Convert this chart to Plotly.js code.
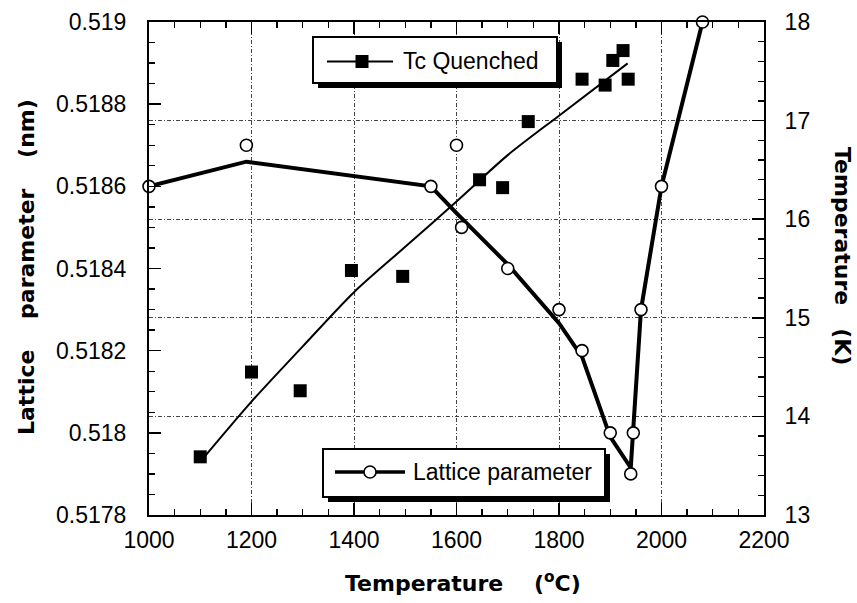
<!DOCTYPE html>
<html>
<head>
<meta charset="utf-8">
<script src="https://cdn.plot.ly/plotly-3.0.1.min.js"></script>
<style>html,body{margin:0;padding:0;background:#fff;}#chart{width:857px;height:603px;}</style>
</head>
<body>
<div id="chart"></div>
<script>
// ---- data ----
// Lattice parameter (nm), left axis
var latX = [1000, 1190, 1550, 1600, 1610, 1700, 1800, 1845, 1900, 1940, 1945, 1960, 2000, 2080];
var latY = [0.5186, 0.5187, 0.5186, 0.5187, 0.5185, 0.5184, 0.5183, 0.5182, 0.5180, 0.5179, 0.5180, 0.5183, 0.5186, 0.5190];
// drawn guide line through the lattice data
var latFitX = [1000, 1190, 1550, 1600, 1700, 1800, 1845, 1900, 1940, 1944, 1960, 2000, 2080];
var latFitY = [0.51860, 0.51866, 0.51860, 0.518535, 0.51841, 0.518267, 0.518185, 0.51799, 0.517915, 0.51800, 0.51830, 0.51860, 0.51900];
// Tc quenched (K), right axis
var tcX = [1100, 1200, 1295, 1395, 1495, 1645, 1690, 1740, 1845, 1890, 1905, 1925, 1935];
var tcY = [13.59, 14.45, 14.26, 15.48, 15.42, 16.40, 16.32, 16.99, 17.42, 17.36, 17.61, 17.71, 17.42];
// fitted Tc trend line
var tcFitX = [1100, 1200, 1300, 1400, 1500, 1600, 1700, 1800, 1934];
var tcFitY = [13.54, 14.15, 14.71, 15.26, 15.72, 16.18, 16.65, 17.05, 17.58];
// tick labels
var xTicks = [1000, 1200, 1400, 1600, 1800, 2000, 2200];
var xTickText = ['1000', '1200', '1400', '1600', '1800', '2000', '2200'];
var yTicks = [0.5178, 0.518, 0.5182, 0.5184, 0.5186, 0.5188, 0.519];
var yTickText = ['0.5178', '0.518', '0.5182', '0.5184', '0.5186', '0.5188', '0.519'];
var y2Ticks = [13, 14, 15, 16, 17, 18];
var y2TickText = ['13', '14', '15', '16', '17', '18'];
var legendNames = ['Tc Quenched', 'Lattice parameter'];

// ---- geometry helpers (pixel -> paper) ----
var L = 149, R = 764, T = 22, B = 515;
function px(x) { return (x - L) / (R - L); }
function py(y) { return (B - y) / (B - T); }

var tickFont = {family: 'Liberation Sans, Arial, sans-serif', size: 23, color: '#000'};
var titleFont = {family: 'DejaVu Sans, sans-serif', size: 22, color: '#000', weight: 'bold'};
var gridDash = '4px,2px,1px,2px';

var traces = [
  {x: latFitX, y: latFitY, mode: 'lines', line: {color: '#000', width: 4}, cliponaxis: false, hoverinfo: 'skip', showlegend: false},
  {x: latX, y: latY, mode: 'markers', name: legendNames[1], cliponaxis: false,
   marker: {symbol: 'circle', size: 12, color: '#fff', line: {color: '#000', width: 1.6}}, showlegend: false},
  {x: tcFitX, y: tcFitY, yaxis: 'y2', mode: 'lines', line: {color: '#000', width: 2, shape: 'spline', smoothing: 0.8}, cliponaxis: false, hoverinfo: 'skip', showlegend: false},
  {x: tcX, y: tcY, yaxis: 'y2', mode: 'markers', name: legendNames[0], cliponaxis: false,
   marker: {symbol: 'square', size: 13, color: '#000'}, showlegend: false}
];

var nb = '\u00a0';
var shapes = [];
var annotations = [];
function box(x0, y0, x1, y1, off) {
  shapes.push({type: 'rect', xref: 'paper', yref: 'paper', x0: px(x0 + off), x1: px(x1 + off), y0: py(y1 + off), y1: py(y0 + off),
               fillcolor: '#000', line: {width: 0}, layer: 'above'});
  shapes.push({type: 'rect', xref: 'paper', yref: 'paper', x0: px(x0), x1: px(x1), y0: py(y1), y1: py(y0),
               fillcolor: '#fff', line: {color: '#000', width: 2}, layer: 'above'});
}
// legend 1: Tc Quenched
box(313, 37, 557, 83, 5);
shapes.push({type: 'line', xref: 'paper', yref: 'paper', x0: px(327), x1: px(393), y0: py(61.5), y1: py(61.5), line: {color: '#000', width: 2}, layer: 'above'});
shapes.push({type: 'rect', xref: 'paper', yref: 'paper', x0: px(355.5), x1: px(368.5), y0: py(68), y1: py(55), fillcolor: '#000', line: {width: 0}, layer: 'above'});
annotations.push({xref: 'paper', yref: 'paper', x: px(401), y: py(61), xanchor: 'left', yanchor: 'middle', showarrow: false,
                  text: legendNames[0], font: tickFont});
// legend 2: Lattice parameter
box(323, 449, 605, 497, 5);
shapes.push({type: 'line', xref: 'paper', yref: 'paper', x0: px(335), x1: px(405), y0: py(472), y1: py(472), line: {color: '#000', width: 3.5}, layer: 'above'});
shapes.push({type: 'circle', xref: 'paper', yref: 'paper', x0: px(364), x1: px(376), y0: py(478), y1: py(466), fillcolor: '#fff', line: {color: '#000', width: 1.6}, layer: 'above'});
annotations.push({xref: 'paper', yref: 'paper', x: px(411), y: py(472), xanchor: 'left', yanchor: 'middle', showarrow: false,
                  text: legendNames[1], font: tickFont});
// axis titles
annotations.push({xref: 'paper', yref: 'paper', x: px(463), y: py(582), xanchor: 'center', yanchor: 'middle', showarrow: false,
                  text: 'Temperature' + nb + nb + nb + nb + '(<sup>o</sup>C)', font: titleFont});
annotations.push({xref: 'paper', yref: 'paper', x: px(26), y: py(267), xanchor: 'center', yanchor: 'middle', showarrow: false, textangle: -90,
                  text: 'Lattice' + nb + nb + nb + nb + 'parameter' + nb + nb + nb + nb + '(nm)', font: titleFont});
annotations.push({xref: 'paper', yref: 'paper', x: px(843), y: py(256), xanchor: 'center', yanchor: 'middle', showarrow: false, textangle: 90,
                  text: 'Temperature' + nb + nb + nb + '(K)', font: titleFont});

var layout = {
  width: 857, height: 603,
  margin: {l: L, r: 857 - R, t: T, b: 603 - B, pad: 0},
  paper_bgcolor: '#fff', plot_bgcolor: '#fff',
  font: tickFont,
  showlegend: false,
  xaxis: {
    range: [1000, 2200], tickmode: 'array', tickvals: xTicks, ticktext: xTickText,
    ticks: 'inside', ticklen: 12, tickwidth: 1.5, tickcolor: '#000',
    minor: {tickmode: 'linear', tick0: 1000, dtick: 50, ticks: 'inside', ticklen: 6, tickwidth: 1.3, tickcolor: '#000', showgrid: false},
    showline: true, linewidth: 2, linecolor: '#000', mirror: 'ticks',
    showgrid: true, gridcolor: '#444', gridwidth: 1, griddash: gridDash, zeroline: false,
    tickfont: tickFont, ticklabelstandoff: 3
  },
  yaxis: {
    range: [0.5178, 0.519], tickmode: 'array', tickvals: yTicks, ticktext: yTickText,
    ticks: 'inside', ticklen: 12, tickwidth: 1.5, tickcolor: '#000',
    minor: {tickmode: 'linear', tick0: 0.5178, dtick: 0.00005, ticks: 'inside', ticklen: 6, tickwidth: 1.3, tickcolor: '#000', showgrid: false},
    showline: true, linewidth: 2, linecolor: '#000', mirror: false,
    showgrid: false, zeroline: false, tickfont: tickFont, ticklabelstandoff: 16
  },
  yaxis2: {
    overlaying: 'y', side: 'right',
    range: [13, 18], tickmode: 'array', tickvals: y2Ticks, ticktext: y2TickText,
    ticks: 'inside', ticklen: 12, tickwidth: 1.5, tickcolor: '#000',
    minor: {tickmode: 'linear', tick0: 13, dtick: 0.2, ticks: 'inside', ticklen: 6, tickwidth: 1.3, tickcolor: '#000', showgrid: false},
    showline: true, linewidth: 2, linecolor: '#000',
    showgrid: true, gridcolor: '#444', gridwidth: 1, griddash: gridDash, zeroline: false,
    tickfont: tickFont, ticklabelstandoff: 14
  },
  shapes: shapes,
  annotations: annotations
};

Plotly.newPlot('chart', traces, layout, {staticPlot: true, displayModeBar: false});
</script>
</body>
</html>
